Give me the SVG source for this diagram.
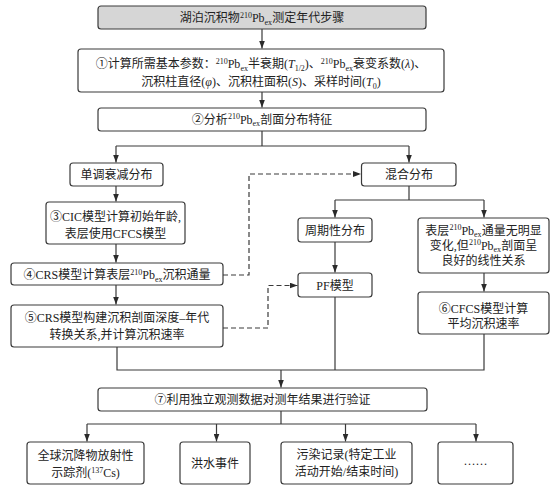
<svg xmlns="http://www.w3.org/2000/svg" width="554" height="491" viewBox="0 0 554 491">
<defs>
<style>
.box{fill:#fff;stroke:#3a3a3a;stroke-width:1.2}
.gray{fill:#d6d6d6}
.t{font-family:"Liberation Serif","Noto Sans CJK SC",serif;font-size:12px;fill:#222;text-anchor:middle}
.s{font-size:8px}
.i{font-style:italic}
.c{fill:none;stroke:#3a3a3a;stroke-width:1.2}
.d{stroke-dasharray:5 3}
</style>
<marker id="ah" markerUnits="userSpaceOnUse" markerWidth="8" markerHeight="6" refX="8" refY="3" orient="auto">
<path d="M0,0 L8,3 L0,6 z" fill="#2a2a2a"/>
</marker>
</defs>
<rect width="554" height="491" fill="#fff"/>

<g id="connectors">
<path class="c" d="M262,29 V48.5" marker-end="url(#ah)"/>
<path class="c" d="M262,92 V107.5" marker-end="url(#ah)"/>
<path class="c" d="M262,131 V146 M116,146 H409"/>
<path class="c" d="M116,146 V162.5" marker-end="url(#ah)"/>
<path class="c" d="M409,146 V162.5" marker-end="url(#ah)"/>
<path class="c" d="M116,186 V201.5" marker-end="url(#ah)"/>
<path class="c" d="M116,244 V262.5" marker-end="url(#ah)"/>
<path class="c" d="M116,285 V304.5" marker-end="url(#ah)"/>
<path class="c d" d="M223,275 H249 V174 H361" marker-end="url(#ah)"/>
<path class="c d" d="M223,328 H268 V285.5 H297.5" marker-end="url(#ah)"/>
<path class="c" d="M409,186 V200 M335,200 H484"/>
<path class="c" d="M335,200 V217.5" marker-end="url(#ah)"/>
<path class="c" d="M484,200 V217.5" marker-end="url(#ah)"/>
<path class="c" d="M335,242 V272.5" marker-end="url(#ah)"/>
<path class="c" d="M484,273 V291.5" marker-end="url(#ah)"/>
<path class="c" d="M117,347 V370 H484 V334 M335,297 V370"/>
<path class="c" d="M281,370 V387.5" marker-end="url(#ah)"/>
<path class="c" d="M281,411 V424 M87,424 H476"/>
<path class="c" d="M87,424 V441.5" marker-end="url(#ah)"/>
<path class="c" d="M216.5,424 V441.5" marker-end="url(#ah)"/>
<path class="c" d="M345.5,424 V441.5" marker-end="url(#ah)"/>
<path class="c" d="M476,424 V441.5" marker-end="url(#ah)"/>
</g>

<g id="title">
<rect class="box gray" x="98" y="6" width="328" height="23" rx="3"/>
<text class="t" x="262" y="22">湖泊沉积物<tspan class="s" dy="-4.5">210</tspan><tspan dy="4.5">Pb</tspan><tspan class="s" dy="2.5">ex</tspan><tspan dy="-2.5">测定年代步骤</tspan></text>
</g>

<g id="step1">
<rect class="box" x="78" y="49" width="366" height="43" rx="3"/>
<text class="t" x="261" y="68">①计算所需基本参数：<tspan class="s" dy="-4.5">210</tspan><tspan dy="4.5">Pb</tspan><tspan class="s" dy="2.5">ex</tspan><tspan dy="-2.5">半衰期(</tspan><tspan class="i">T</tspan><tspan class="s" dy="2.5">1/2</tspan><tspan dy="-2.5">)、</tspan><tspan class="s" dy="-4.5">210</tspan><tspan dy="4.5">Pb</tspan><tspan class="s" dy="2.5">ex</tspan><tspan dy="-2.5">衰变系数(</tspan><tspan class="i">λ</tspan>)、</text>
<text class="t" x="261" y="86">沉积柱直径(<tspan class="i">φ</tspan>)、沉积柱面积(<tspan class="i">S</tspan>)、采样时间(<tspan class="i">T</tspan><tspan class="s" dy="2.5">0</tspan><tspan dy="-2.5">)</tspan></text>
</g>

<g id="step2">
<rect class="box" x="98" y="108" width="328" height="23" rx="3"/>
<text class="t" x="262" y="123.5">②分析<tspan class="s" dy="-4.5">210</tspan><tspan dy="4.5">Pb</tspan><tspan class="s" dy="2.5">ex</tspan><tspan dy="-2.5">剖面分布特征</tspan></text>
</g>

<g id="monotonic">
<rect class="box" x="70" y="163" width="93" height="23" rx="3"/>
<text class="t" x="116.5" y="179">单调衰减分布</text>
</g>

<g id="mixed">
<rect class="box" x="361.5" y="163" width="94.5" height="23" rx="3"/>
<text class="t" x="409" y="179">混合分布</text>
</g>

<g id="step3">
<rect class="box" x="46" y="202" width="139" height="42" rx="3"/>
<text class="t" x="115.5" y="220.5">③CIC模型计算初始年龄,</text>
<text class="t" x="115.5" y="238">表层使用CFCS模型</text>
</g>

<g id="step4">
<rect class="box" x="11" y="263" width="212" height="22" rx="3"/>
<text class="t" x="117" y="279">④CRS模型计算表层<tspan class="s" dy="-4.5">210</tspan><tspan dy="4.5">Pb</tspan><tspan class="s" dy="2.5">ex</tspan><tspan dy="-2.5">沉积通量</tspan></text>
</g>

<g id="step5">
<rect class="box" x="11" y="305" width="212" height="42" rx="3"/>
<text class="t" x="117" y="322">⑤CRS模型构建沉积剖面深度–年代</text>
<text class="t" x="117" y="339">转换关系,并计算沉积速率</text>
</g>

<g id="periodic">
<rect class="box" x="298" y="218" width="74" height="24" rx="3"/>
<text class="t" x="335" y="234.5">周期性分布</text>
</g>

<g id="pf">
<rect class="box" x="298" y="273" width="74" height="24" rx="3"/>
<text class="t" x="335" y="289.5">PF模型</text>
</g>

<g id="surface">
<rect class="box" x="418" y="218" width="131" height="55" rx="3"/>
<text class="t" x="483.5" y="234.5">表层<tspan class="s" dy="-4.5">210</tspan><tspan dy="4.5">Pb</tspan><tspan class="s" dy="2.5">ex</tspan><tspan dy="-2.5">通量无明显</tspan></text>
<text class="t" x="483.5" y="249.5">变化,但<tspan class="s" dy="-4.5">210</tspan><tspan dy="4.5">Pb</tspan><tspan class="s" dy="2.5">ex</tspan><tspan dy="-2.5">剖面呈</tspan></text>
<text class="t" x="483.5" y="264.5">良好的线性关系</text>
</g>

<g id="step6">
<rect class="box" x="418" y="292" width="131" height="42" rx="3"/>
<text class="t" x="483.5" y="313">⑥CFCS模型计算</text>
<text class="t" x="483.5" y="327.5">平均沉积速率</text>
</g>

<g id="step7">
<rect class="box" x="98" y="388" width="329" height="23" rx="3"/>
<text class="t" x="262.5" y="404">⑦利用独立观测数据对测年结果进行验证</text>
</g>

<g id="cs137">
<rect class="box" x="27" y="442" width="117" height="42" rx="3"/>
<text class="t" x="85.5" y="460">全球沉降物放射性</text>
<text class="t" x="85.5" y="477">示踪剂(<tspan class="s" dy="-4.5">137</tspan><tspan dy="4.5">Cs)</tspan></text>
</g>

<g id="flood">
<rect class="box" x="180" y="442" width="70" height="42" rx="3"/>
<text class="t" x="215" y="467.5">洪水事件</text>
</g>

<g id="pollution">
<rect class="box" x="281" y="442" width="131" height="42" rx="3"/>
<text class="t" x="346.5" y="459">污染记录(特定工业</text>
<text class="t" x="346.5" y="476">活动开始/结束时间)</text>
</g>

<g id="etc">
<rect class="box" x="438" y="442" width="75" height="42" rx="3"/>
<text class="t" x="475.5" y="465">……</text>
</g>
</svg>
